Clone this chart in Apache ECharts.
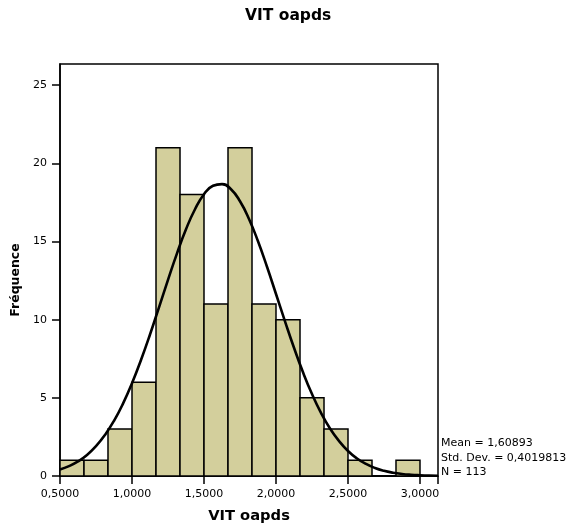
<!DOCTYPE html>
<html><head><meta charset="utf-8">
<script src="https://cdn.jsdelivr.net/npm/echarts@6/dist/echarts.min.js"></script>
<style>html,body{margin:0;padding:0;background:#fff}#c{width:573px;height:529px}</style>
</head><body><div id="c"></div>
<script>
var binStarts = [0.5, 0.6667, 0.8333, 1.0, 1.1667, 1.3333, 1.5, 1.6667, 1.8333, 2.0, 2.1667, 2.3333, 2.5, 2.6667, 2.8333];
var binWidth = 1/6;
var counts = [1, 1, 3, 6, 21, 18, 11, 21, 11, 10, 5, 3, 1, 0, 1];
var curveX = [0.5,0.5625,0.625,0.6875,0.75,0.8125,0.875,0.9375,1.0,1.0625,1.125,1.1875,1.25,1.3125,1.375,1.4375,1.5,1.5625,1.625,1.6875,1.75,1.8125,1.875,1.9375,2.0,2.0625,2.125,2.1875,2.25,2.3125,2.375,2.4375,2.5,2.5625,2.625,2.6875,2.75,2.8125,2.875,2.9375,3.0,3.0625,3.125];
var curveY = [0.42,0.63,0.93,1.35,1.91,2.63,3.53,4.63,5.93,7.42,9.05,10.79,12.54,14.24,15.78,17.06,18.02,18.56,18.67,18.34,17.57,16.44,15.01,13.38,11.64,9.89,8.20,6.63,5.24,4.04,3.04,2.24,1.60,1.12,0.77,0.51,0.33,0.21,0.13,0.08,0.05,0.03,0.02];
var xTicks = [0.5, 1.0, 1.5, 2.0, 2.5, 3.0];
var yTicks = [0, 5, 10, 15, 20, 25];
var statsLines = ['Mean = 1,60893', 'Std. Dev. = 0,4019813', 'N = 113'];

var font = '"DejaVu Sans", Verdana, sans-serif';
var chart = echarts.init(document.getElementById('c'), null, {renderer: 'canvas'});
var barData = binStarts.map(function (s, i) { return [s, s + binWidth, counts[i]]; });
var lineData = curveX.map(function (x, i) { return [x, curveY[i]]; });
function fmt(v) { return v.toFixed(4).replace('.', ','); }

chart.setOption({
  animation: false,
  backgroundColor: '#fff',
  title: {text: 'VIT oapds', left: 245, top: 8, padding: 0,
    textStyle: {fontFamily: font, fontSize: 15.5, fontWeight: 'bold', color: '#000'}},
  grid: {left: 60, top: 64, right: 135, bottom: 51, show: true, borderColor: '#000', borderWidth: 1.5, containLabel: false},
  xAxis: {type: 'value', min: 0.5, max: 3.125, interval: 0.5,
    name: 'VIT oapds', nameLocation: 'middle', nameGap: 33,
    nameTextStyle: {fontFamily: font, fontSize: 14.7, fontWeight: 'bold', color: '#000'},
    axisLine: {show: true, onZero: false, lineStyle: {color: '#000', width: 1.5}},
    axisTick: {show: true, length: 8, lineStyle: {color: '#000', width: 1.5}},
    axisLabel: {fontFamily: font, fontSize: 11, color: '#000', margin: 13,
      formatter: function (v) { return xTicks.indexOf(Math.round(v*1000)/1000) >= 0 ? fmt(v) : ''; }},
    splitLine: {show: false}},
  yAxis: {type: 'value', min: 0, max: 26.35, interval: 5,
    name: 'Fréquence', nameLocation: 'middle', nameGap: 36, nameRotate: 90,
    nameTextStyle: {fontFamily: font, fontSize: 12.5, fontWeight: 'bold', color: '#000', padding: [0, 20, 0, 0]},
    axisLine: {show: true, lineStyle: {color: '#000', width: 1.5}},
    axisTick: {show: true, length: 8, lineStyle: {color: '#000', width: 1.5}},
    axisLabel: {fontFamily: font, fontSize: 11, color: '#000', margin: 13, showMaxLabel: false,
      formatter: function (v) { return yTicks.indexOf(v) >= 0 ? String(v) : ''; }},
    splitLine: {show: false}},
  series: [
    {type: 'custom', data: barData, encode: {x: [0, 1], y: 2}, z: 2,
      renderItem: function (params, api) {
        var p0 = api.coord([api.value(0), api.value(2)]);
        var p1 = api.coord([api.value(1), 0]);
        return {type: 'rect', shape: {x: p0[0], y: p0[1], width: p1[0] - p0[0], height: p1[1] - p0[1]},
          style: {fill: '#d3cf9c', stroke: '#000', lineWidth: 1.5}};
      }},
    {type: 'line', data: lineData, smooth: true, symbol: 'none', z: 3,
      lineStyle: {color: '#000', width: 2.6}}
  ],
  graphic: statsLines.map(function (t, i) {
    return {type: 'text', left: 441, top: 438 + i * 14.5,
      style: {text: t, font: '11px ' + font, fill: '#000'}};
  })
});
</script></body></html>
